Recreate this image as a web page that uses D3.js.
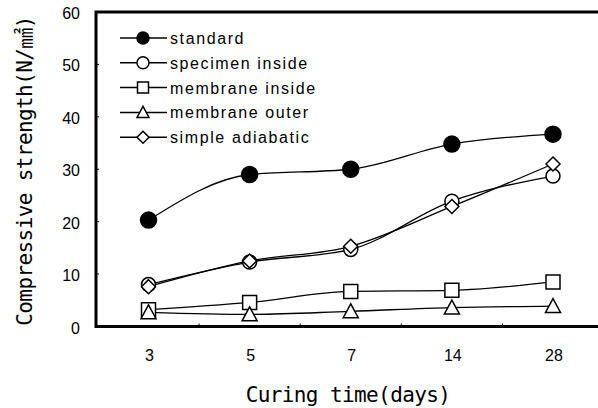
<!DOCTYPE html>
<html>
<head>
<meta charset="utf-8">
<script src="https://cdn.jsdelivr.net/npm/d3@7"></script>
<style>
  body { margin: 0; background: #fff; }
  svg { display: block; }
</style>
</head>
<body>
<div id="chart-area"></div>
<script>
const W = 598, H = 408;

// data
const days = ["3", "5", "7", "14", "28"];
const standard        = [20.3, 29.0, 30.0, 34.8, 36.7];
const specimenInside  = [8.0, 12.3, 14.7, 23.9, 28.7];
const membraneInside  = [3.2, 4.6, 6.7, 6.9, 8.5];
const membraneOuter   = [2.7, 2.3, 2.9, 3.6, 3.9];
const simpleAdiabatic = [7.6, 12.5, 15.3, 22.9, 31.0];
const yTicks = [0, 10, 20, 30, 40, 50, 60];

const seriesList = [
    { name: "standard", values: standard, shape: "circle", fill: "#000" },
    { name: "specimen inside", values: specimenInside, shape: "circle", fill: "#fff" },
    { name: "membrane inside", values: membraneInside, shape: "square", fill: "#fff" },
    { name: "membrane outer", values: membraneOuter, shape: "triangle", fill: "#fff" },
    { name: "simple adiabatic", values: simpleAdiabatic, shape: "diamond", fill: "#fff" }
];

const plot = { left: 96, top: 12, bottom: 326.5, right: 612 };

const svg = d3.select("#chart-area")
    .append("svg")
    .attr("width", W)
    .attr("height", H);

const x = d3.scalePoint()
    .domain(days)
    .range([148.5, 553]);

const y = d3.scaleLinear()
    .domain([0, 60])
    .range([plot.bottom, plot.top]);

// marker path for a shape, s = overall size
const markerPath = (shape, s) => {
    const h = s / 2;
    if (shape === "square") return `M${-h},${-h}H${h}V${h}H${-h}Z`;
    if (shape === "triangle") return `M0,${-h}L${h},${h * 0.85}L${-h},${h * 0.85}Z`;
    if (shape === "diamond") return `M0,${-h}L${h},0L0,${h}L${-h},0Z`;
    return null;
}

const drawMarker = (sel, d, big) => {
    if (d.shape === "circle") {
        const r = big ? (d.fill === "#000" ? 8 : 7) : 6;
        sel.append("circle")
            .attr("r", r)
            .attr("fill", d.fill)
            .attr("stroke", "#000")
            .attr("stroke-width", 1.5);
    } else {
        const s = d.shape === "square" ? (big ? 14 : 11)
            : d.shape === "triangle" ? (big ? 15 : 12)
            : (big ? 14 : 12);
        sel.append("path")
            .attr("d", markerPath(d.shape, s))
            .attr("fill", d.fill)
            .attr("stroke", "#000")
            .attr("stroke-width", 1.5)
            .attr("stroke-linejoin", "miter");
    }
}

// small inward ticks
const bounds = days.slice(0, -1).map((d, i) => (x(d) + x(days[i + 1])) / 2);
svg.append("g")
    .selectAll("line")
    .data(bounds)
    .join("line")
    .attr("x1", d => d).attr("x2", d => d)
    .attr("y1", plot.bottom).attr("y2", plot.bottom - 3)
    .attr("stroke", "#000").attr("stroke-width", 1);

svg.append("g")
    .selectAll("line")
    .data(yTicks.slice(1, -1))
    .join("line")
    .attr("x1", plot.left).attr("x2", plot.left + 3)
    .attr("y1", d => y(d)).attr("y2", d => y(d))
    .attr("stroke", "#000").attr("stroke-width", 1);

// lines
const line = d3.line()
    .x((v, i) => x(days[i]))
    .y(v => y(v))
    .curve(d3.curveMonotoneX);

svg.append("g")
    .selectAll("path")
    .data(seriesList)
    .join("path")
    .attr("d", d => line(d.values))
    .attr("fill", "none")
    .attr("stroke", "#000")
    .attr("stroke-width", 1.3);

// markers
seriesList.forEach(s => {
    s.values.forEach((v, i) => {
        const gm = svg.append("g")
            .attr("transform", `translate(${x(days[i])},${y(v)})`);
        drawMarker(gm, s, true);
    });
});

// frame
svg.append("rect")
    .attr("x", plot.left)
    .attr("y", plot.top)
    .attr("width", plot.right - plot.left)
    .attr("height", plot.bottom - plot.top)
    .attr("fill", "none")
    .attr("stroke", "#000")
    .attr("stroke-width", 3);

// y tick labels
svg.append("g")
    .selectAll("text")
    .data(yTicks)
    .join("text")
    .attr("x", 80)
    .attr("y", d => y(d) + 7)
    .attr("text-anchor", "end")
    .attr("font-family", "'Liberation Sans', Arial, sans-serif")
    .attr("font-size", "16px")
    .text(d => d);

// x tick labels
svg.append("g")
    .selectAll("text")
    .data(days)
    .join("text")
    .attr("x", d => x(d) + 1)
    .attr("y", 361)
    .attr("text-anchor", "middle")
    .attr("font-family", "'Liberation Sans', Arial, sans-serif")
    .attr("font-size", "16px")
    .text(d => d);

// axis titles
svg.append("text")
    .attr("x", 348)
    .attr("y", 402)
    .attr("text-anchor", "middle")
    .attr("font-family", "'DejaVu Sans Mono', monospace")
    .attr("font-size", "21px")
    .attr("letter-spacing", "-0.6px")
    .text("Curing time(days)");

svg.append("text")
    .attr("transform", "translate(32,171) rotate(-90)")
    .attr("text-anchor", "middle")
    .attr("font-family", "'DejaVu Sans Mono', 'Noto Sans CJK KR', monospace")
    .attr("font-size", "21px")
    .attr("letter-spacing", "-0.6px")
    .text("Compressive strength(N/㎟)");

// legend
const legend = svg.append("g")
    .selectAll("g")
    .data(seriesList)
    .join("g")
    .attr("transform", (d, i) => `translate(143,${38 + i * 24.8})`);

legend.append("line")
    .attr("x1", -23).attr("x2", 24)
    .attr("stroke", "#000")
    .attr("stroke-width", 1.5);

legend.each(function (d) { drawMarker(d3.select(this), d, false); });

legend.append("text")
    .attr("x", 27)
    .attr("y", 6)
    .attr("font-family", "'Liberation Sans', Arial, sans-serif")
    .attr("font-size", "16px")
    .attr("letter-spacing", "1.6px")
    .text(d => d.name);
</script>
</body>
</html>
